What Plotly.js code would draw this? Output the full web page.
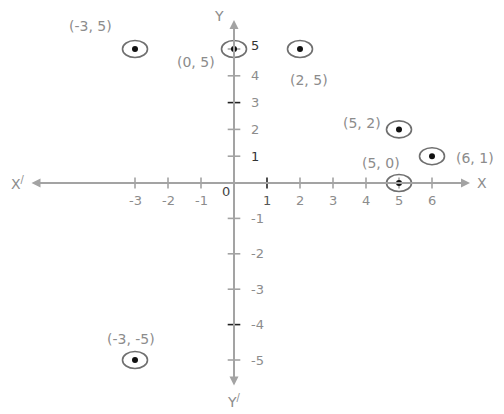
<!DOCTYPE html>
<html>
<head>
<meta charset="utf-8">
<script src="https://cdn.plot.ly/plotly-3.0.1.min.js"></script>
<style>
  html, body { margin: 0; padding: 0; background: #fff; }
  #grafico { width: 504px; height: 414px; }
</style>
</head>
<body>
<div id="grafico"></div>
<script>
// Puntos del plano cartesiano y sus etiquetas
const ptX = [-3, 0, 2, 5, 6, 5, -3];
const ptY = [5, 5, 5, 2, 1, 0, -5];
// desplazamiento de cada etiqueta respecto a su punto (px, hacia abajo positivo)
const labelDx = [-45, -38, 9, -37, 43, -18, -4];
const labelDy = [-23, 13, 31, -6, 2, -20, -21];

// Marcas de los ejes
const xTicks = [-3, -2, -1, 1, 2, 3, 4, 5, 6];
const yTicks = [5, 4, 3, 2, 1, -1, -2, -3, -4, -5];
const darkX = [1];
const darkY = [3, -4];

const grey = '#8c8c8c';
const axisGrey = '#a3a3a3';
const fontFam = 'DejaVu Sans, sans-serif';

// semieje positivo -> y, negativo -> y2
const yr = v => (v >= 0 ? 'y' : 'y2');

const traces = [];

// marcas del eje x
traces.push({
    x: xTicks,
    y: xTicks.map(() => 0),
    type: 'scatter',
    mode: 'markers',
    yaxis: 'y',
    cliponaxis: false,
    hoverinfo: 'none',
    marker: {
        symbol: 'line-ns',
        size: 8,
        line: { width: 1.6, color: xTicks.map(t => darkX.includes(t) ? '#222' : axisGrey) }
    }
});

// marcas del eje y (arriba y abajo)
['y', 'y2'].forEach(ax => {
    const ticks = yTicks.filter(t => yr(t) === ax);
    traces.push({
        x: ticks.map(() => 0),
        y: ticks,
        type: 'scatter',
        mode: 'markers',
        yaxis: ax,
        cliponaxis: false,
        hoverinfo: 'none',
        marker: {
            symbol: 'line-ew',
            size: 9,
            line: { width: 1.6, color: ticks.map(t => darkY.includes(t) ? '#222' : axisGrey) }
        }
    });
});

// puntos negros
['y', 'y2'].forEach(ax => {
    const idx = ptY.map((v, i) => i).filter(i => yr(ptY[i]) === ax);
    traces.push({
        x: idx.map(i => ptX[i]),
        y: idx.map(i => ptY[i]),
        type: 'scatter',
        mode: 'markers',
        yaxis: ax,
        cliponaxis: false,
        hoverinfo: 'x+y',
        marker: { symbol: 'circle', size: 6, color: '#111' }
    });
});

// óvalos alrededor de cada punto
const shapes = ptX.map((x, i) => ({
    type: 'circle',
    xref: 'x',
    yref: yr(ptY[i]),
    xsizemode: 'pixel',
    ysizemode: 'pixel',
    xanchor: x,
    yanchor: ptY[i],
    x0: -12.5, x1: 12.5,
    y0: -8.5, y1: 8.5,
    line: { color: '#6f6f6f', width: 1.6 }
}));

const annotations = [];

// etiquetas de los puntos
ptX.forEach((x, i) => {
    annotations.push({
        x: x, y: ptY[i], xref: 'x', yref: yr(ptY[i]),
        text: '(' + x + ', ' + ptY[i] + ')',
        showarrow: false,
        xshift: labelDx[i], yshift: -labelDy[i],
        font: { family: fontFam, size: 14, color: grey }
    });
});

// números del eje x
xTicks.forEach(t => {
    annotations.push({
        x: t, y: 0, xref: 'x', yref: 'y',
        text: String(t),
        showarrow: false,
        yshift: -17,
        font: { family: fontFam, size: 13, color: darkX.includes(t) ? '#555' : grey }
    });
});

// números del eje y
yTicks.forEach(t => {
    annotations.push({
        x: 0, y: t, xref: 'x', yref: yr(t),
        text: String(t),
        showarrow: false,
        xanchor: 'left',
        xshift: 15,
        yshift: t === 5 ? 4 : 0,
        font: { family: fontFam, size: 13, color: (t === 5 || t === 1) ? '#333' : grey }
    });
});

// origen
annotations.push({
    x: 0, y: 0, xref: 'x', yref: 'y', text: '0', showarrow: false,
    xshift: -8, yshift: -8,
    font: { family: fontFam, size: 13, color: '#444' }
});

// ejes: la etiqueta X' / Y' va en la cola y la flecha llega al otro extremo
const arrowStyle = {
    showarrow: true, axref: 'pixel', ayref: 'pixel',
    arrowside: 'end+start', arrowhead: 2, startarrowhead: 2,
    arrowsize: 0.9, startarrowsize: 0.9, arrowwidth: 2, arrowcolor: axisGrey,
    standoff: 0, startstandoff: 5,
    font: { family: fontFam, size: 14, color: grey }
};
annotations.push(Object.assign({}, arrowStyle, {
    x: 470 / 504, y: 0, xref: 'paper', yref: 'y',
    text: 'X<sup>/</sup>', ax: 18 - 470, ay: 0
}));
annotations.push(Object.assign({}, arrowStyle, {
    x: 0, y: 394 / 414, xref: 'x', yref: 'paper',
    text: 'Y<sup>/</sup>', ax: 0, ay: 401 - 20
}));

// nombres X e Y
const axisNames = [
    { text: 'X', x: 482, y: 183 },
    { text: 'Y', x: 219, y: 16 }
];
axisNames.forEach(a => {
    annotations.push({
        x: a.x / 504, y: 1 - a.y / 414, xref: 'paper', yref: 'paper',
        xanchor: 'center', yanchor: 'middle',
        text: a.text, showarrow: false,
        font: { family: fontFam, size: 14, color: grey }
    });
});

const layout = {
    width: 504,
    height: 414,
    margin: { l: 0, r: 0, t: 0, b: 0 },
    paper_bgcolor: '#fff',
    plot_bgcolor: 'rgba(0,0,0,0)',
    showlegend: false,
    xaxis: { range: [-234 / 33, 270 / 33], visible: false, fixedrange: true },
    // mitad superior (escala más apretada)
    yaxis: { domain: [214 / 414, 1], range: [-17 / 26.8, 183 / 26.8], visible: false, fixedrange: true },
    // mitad inferior
    yaxis2: { domain: [0, 231 / 414], range: [-231 / 35.4, 0], visible: false, fixedrange: true, anchor: 'x' },
    shapes: shapes,
    annotations: annotations,
    hovermode: 'closest'
};

Plotly.newPlot('grafico', traces, layout, { displayModeBar: false, staticPlot: true });
</script>
</body>
</html>
